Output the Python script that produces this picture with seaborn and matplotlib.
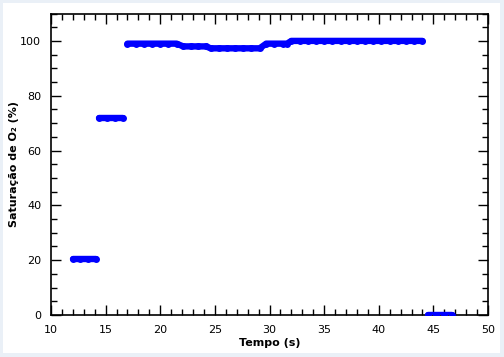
import numpy as np
import pandas as pd
import seaborn as sns
import matplotlib.pyplot as plt
from matplotlib.patches import Rectangle
from matplotlib.ticker import MultipleLocator

# readings (time in s, O2 saturation in %)
# each trace is a run of samples that the original joins with a line
tempo_a = [12.0, 12.7, 13.4, 14.1]
sat_a = [20.3, 20.3, 20.3, 20.3]

tempo_b = [14.4, 15.1, 15.85, 16.55]
sat_b = [72, 72, 72, 72]

tempo_c = [17.0, 17.75, 18.5, 19.25, 20.0, 20.75, 21.5,
           22.1, 22.8, 23.5, 24.2,
           24.6, 25.35, 26.1, 26.85, 27.6, 28.35, 29.1,
           29.7, 30.45, 31.2, 31.6,
           32.0, 32.75, 33.5, 34.25, 35.0, 35.75, 36.5, 37.25, 38.0,
           38.75, 39.5, 40.25, 41.0, 41.75, 42.5, 43.25, 44.0]
sat_c = [99] * 7 + [98] * 4 + [97.3] * 7 + [99] * 4 + [100] * 17

tempo_d = [44.5, 45.25, 46.0, 46.7]
sat_d = [0, 0, 0, 0]

traces = [(tempo_a, sat_a), (tempo_b, sat_b), (tempo_c, sat_c), (tempo_d, sat_d)]
df = pd.concat([pd.DataFrame({"tempo": t, "sat": s, "trace": i})
                for i, (t, s) in enumerate(traces)], ignore_index=True)

sns.set_style("white")
plt.rcParams['font.family'] = ['DejaVu Sans']

fig = plt.figure(figsize=(5.04, 3.57), dpi=100)
fig.patch.set_facecolor("#eaf0f7")
fig.add_artist(Rectangle((3 / 504, 1 - 353 / 357), 497 / 504, 350 / 357,
                         transform=fig.transFigure, facecolor="white",
                         edgecolor="none", zorder=-10))
ax = fig.add_axes([51 / 504, 1 - 315 / 357, 437 / 504, 301.5 / 357])
ax.set_zorder(1)
ax.set_facecolor("white")

sns.lineplot(data=df, x="tempo", y="sat", units="trace", estimator=None,
             sort=False, ax=ax, color="#0000ff", linewidth=4.6,
             marker="o", markersize=5.0, markeredgewidth=0, alpha=1,
             solid_capstyle="round", legend=False, zorder=3)

ax.set_xlim(10, 50)
ax.set_ylim(0, 110)
ax.xaxis.set_major_locator(MultipleLocator(5))
ax.xaxis.set_minor_locator(MultipleLocator(1))
ax.yaxis.set_major_locator(MultipleLocator(20))
ax.yaxis.set_minor_locator(MultipleLocator(5))

for s in ax.spines.values():
    s.set_visible(True)
    s.set_color("black")
    s.set_linewidth(1.2)

ax.tick_params(which="both", direction="in", top=True, right=True,
               bottom=True, left=True, color="black", width=1,
               labelcolor="black")
ax.tick_params(which="major", length=7, labelsize=8, pad=7)
ax.tick_params(which="minor", length=4)

ax.set_xlabel("Tempo (s)", fontsize=8, fontweight="bold", labelpad=2, color="black")
ax.set_ylabel("Saturação de O₂ (%)", fontsize=8, fontweight="bold", labelpad=1, color="black")

fig.savefig("out.png", dpi=100, facecolor=fig.get_facecolor())
